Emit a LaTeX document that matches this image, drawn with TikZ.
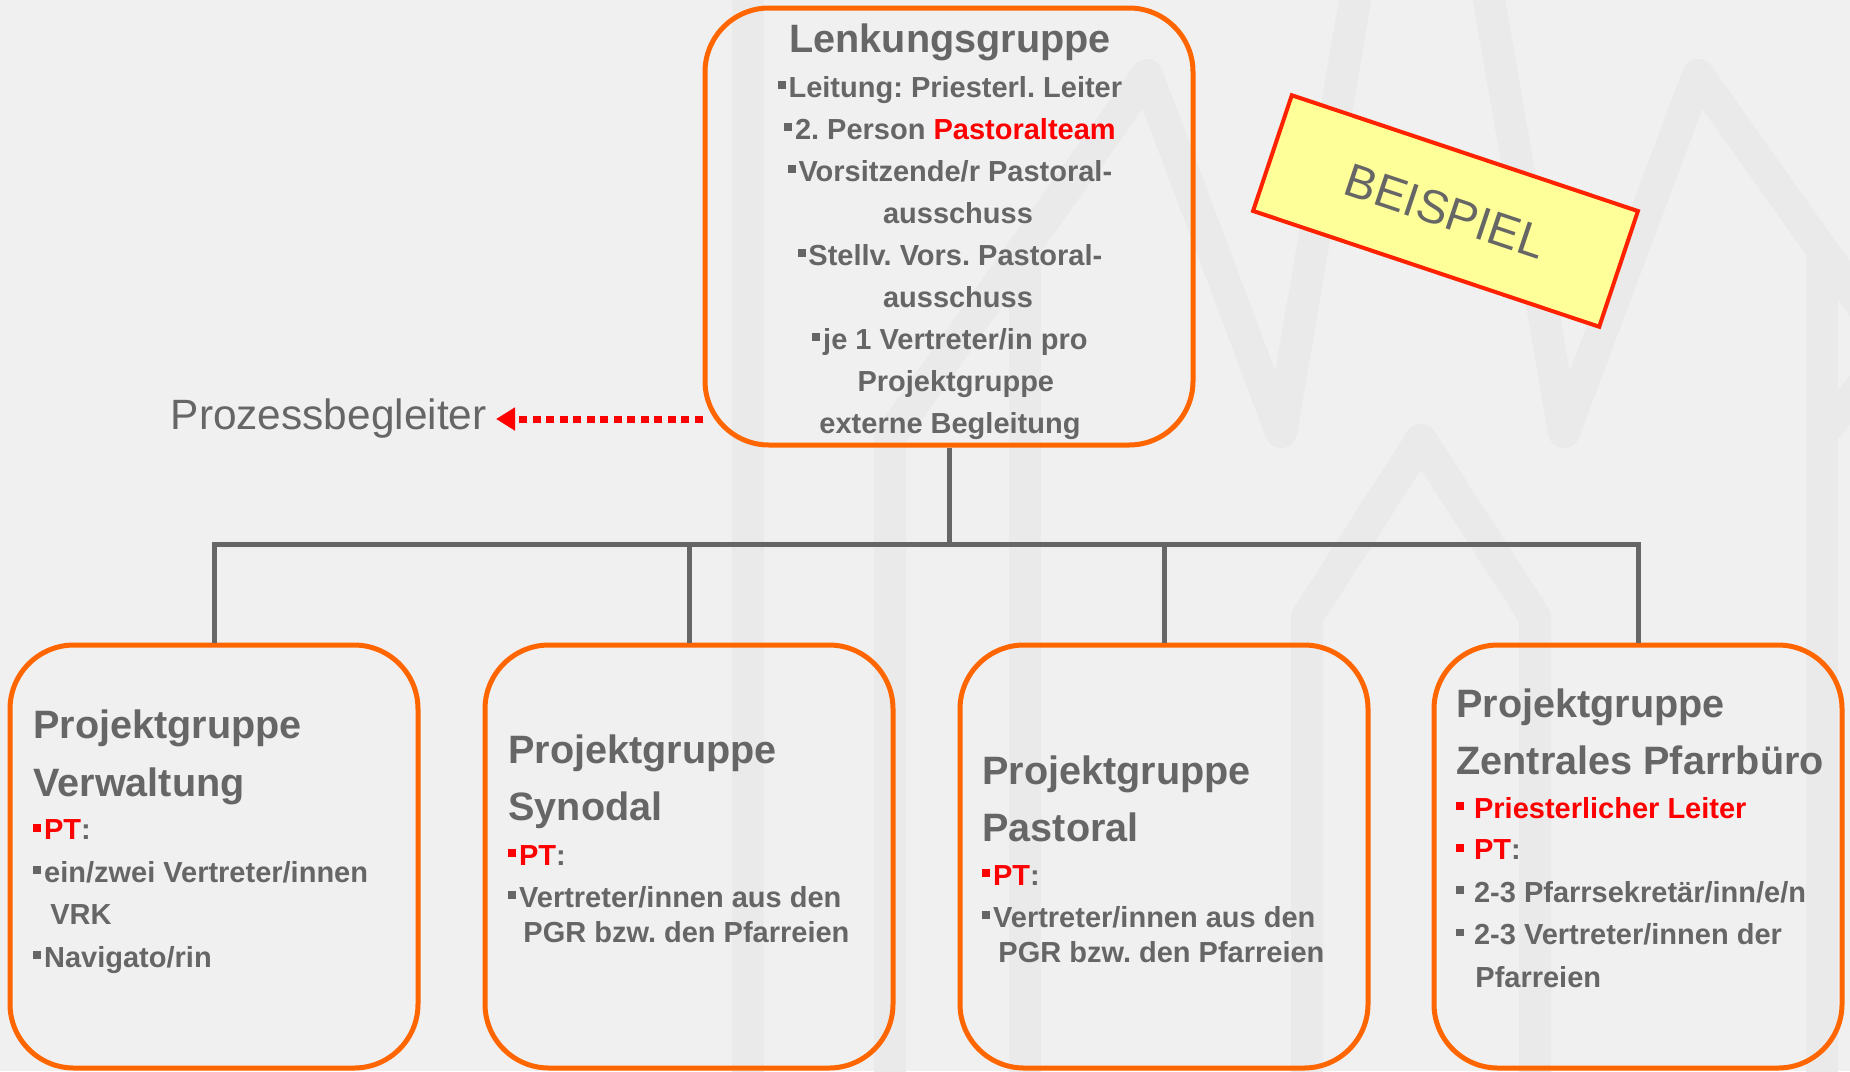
\documentclass[tikz,border=0pt]{standalone}
\usepackage{fontspec}
\setmainfont{Liberation Sans}
\usetikzlibrary{arrows.meta}

\definecolor{bggrey}{HTML}{F0F0F0}
\definecolor{wmgrey}{HTML}{EAEAEA}
\definecolor{txtgrey}{HTML}{666666}
\definecolor{pgorange}{HTML}{FF6600}
\definecolor{pgred}{HTML}{FF0000}
\definecolor{notefill}{HTML}{FFFF99}
\definecolor{noteline}{HTML}{FF2200}

\newcommand{\sqb}{\rule[0.28em]{0.27em}{0.27em}\hspace{0.1em}}
\newcommand{\sqbs}{\rule[0.28em]{0.27em}{0.27em}\hspace{0.34em}}
\newcommand{\grptitle}{\fontsize{19.8}{29}\selectfont}
\frenchspacing

\tikzset{
	grpbox/.style={draw=pgorange, line width=2.5pt, rounded corners=32pt, inner sep=0pt},
	grptext/.style={inner sep=0pt, text=txtgrey, align=left, anchor=base west,
		font=\fontsize{14.5}{21.2}\selectfont\bfseries},
	link/.style={draw=txtgrey, line width=2.5pt},
	wmline/.style={draw=wmgrey, line width=16pt, line cap=round, line join=round}
}

\begin{document}
\begin{tikzpicture}[x=0.5pt, y=-0.5pt]
	\fill[bggrey] (0,0) rectangle (1850,1071);
	\useasboundingbox (0,0) rectangle (1850,1071);

	% watermark
	\begin{scope}
		\clip (0,0) rectangle (1850,1071);
		\draw[wmline] (748,-40) -- (748,1110);
		\draw[wmline] (890,1110) -- (890,437) -- (1147,75) -- (1281,432) -- (1362,-40);
		\draw[wmline] (1482,-40) -- (1564,432) -- (1698,75) -- (1955,437);
		\draw[wmline] (1025,1110) -- (1025,247);
		\draw[wmline] (1822,1110) -- (1822,250);
		\draw[wmline] (1822,433) -- (1880,365);
		\draw[wmline] (1307,1110) -- (1307,617) -- (1421,440) -- (1535,617) -- (1535,1110);
	\end{scope}

	\node[grpbox, minimum width=244pt, minimum height=218.5pt] (lenk) at (949,226.5) {};
	\node[grpbox, minimum width=204pt, minimum height=211.5pt] (verw) at (214,856.5) {};
	\node[grpbox, minimum width=204pt, minimum height=211.5pt] (syn) at (689,856.5) {};
	\node[grpbox, minimum width=204pt, minimum height=211.5pt] (past) at (1164,856.5) {};
	\node[grpbox, minimum width=204pt, minimum height=211.5pt] (zpb) at (1638,856.5) {};

	\coordinate (bus) at (949,544);
	\draw[link] (lenk.south) -- (bus);
	\foreach \g in {verw,syn,past,zpb}
		\draw[link] (bus) -| (\g.north);

	% texts are anchored at the baseline of their last line
	\node[grptext, anchor=base, align=center, font=\fontsize{14.5}{21}\selectfont\bfseries] (lenktxt) at (950,433)
		{{\grptitle Lenkungsgruppe}\\[1.5pt]
		\sqb Leitung: Priesterl. Leiter\\
		\sqb 2. Person \textcolor{pgred}{Pastoralteam}\\
		\sqb Vorsitzende/r Pastoral-\\
		\hspace*{0.55em}ausschuss\\
		\sqb Stellv. Vors. Pastoral-\\
		\hspace*{0.55em}ausschuss\\
		\sqb je 1 Vertreter/in pro\\
		\hspace*{0.4em}Projektgruppe\\
		externe Begleitung};

	\node[grptext] (verwtxt) at (33,967)
		{{\grptitle Projektgruppe}\\[7.7pt]
		{\grptitle Verwaltung}\\[0.7pt]
		\textcolor{pgred}{\sqb PT}:\\
		\sqb ein/zwei Vertreter/innen\\
		\hspace*{8.5pt}VRK\\
		\sqb Navigato/rin};
	\node[grptext] (syntxt) at (508,942)
		{{\grptitle Projektgruppe}\\[7.2pt]
		{\grptitle Synodal}\\[1.2pt]
		\textcolor{pgred}{\sqb PT}:\\[-0.3pt]
		\sqb Vertreter/innen aus den\\[-3.8pt]
		\hspace*{7.5pt}PGR bzw. den Pfarreien};
	\node[grptext] (pasttxt) at (982,962)
		{{\grptitle Projektgruppe}\\[7.2pt]
		{\grptitle Pastoral}\\[0.7pt]
		\textcolor{pgred}{\sqb PT}:\\[-0.3pt]
		\sqb Vertreter/innen aus den\\[-3.8pt]
		\hspace*{8pt}PGR bzw. den Pfarreien};
	\node[grptext] (zpbtxt) at (1456,987)
		{{\grptitle Projektgruppe}\\[7.2pt]
		{\grptitle Zentrales Pfarrbüro}\\[0.7pt]
		\textcolor{pgred}{\sqbs Priesterlicher Leiter}\\[-0.3pt]
		\textcolor{pgred}{\sqbs PT}:\\
		\sqbs 2-3 Pfarrsekretär/inn/e/n\\
		\sqbs 2-3 Vertreter/innen der\\
		\hspace*{9.5pt}Pfarreien};

	\node[anchor=east, inner xsep=4.5pt, inner ysep=0pt, text=txtgrey, font=\fontsize{21.2}{25}\selectfont] (proz) at (496,419) {Prozessbegleiter};
	\draw[pgred, line width=3.5pt, dash pattern=on 4pt off 2.75pt, -{Triangle[length=9.5pt, width=11pt]}] (lenk.west |- proz.east) -- (proz.east);

	\node[draw=noteline, fill=notefill, line width=2pt, rotate=-18.5, minimum width=182.5pt, minimum height=61pt, inner sep=0pt, text=txtgrey, font=\fontsize{23.5}{28}\selectfont] (beisp) at (1445.5,211) {BEISPIEL};
\end{tikzpicture}
\end{document}
